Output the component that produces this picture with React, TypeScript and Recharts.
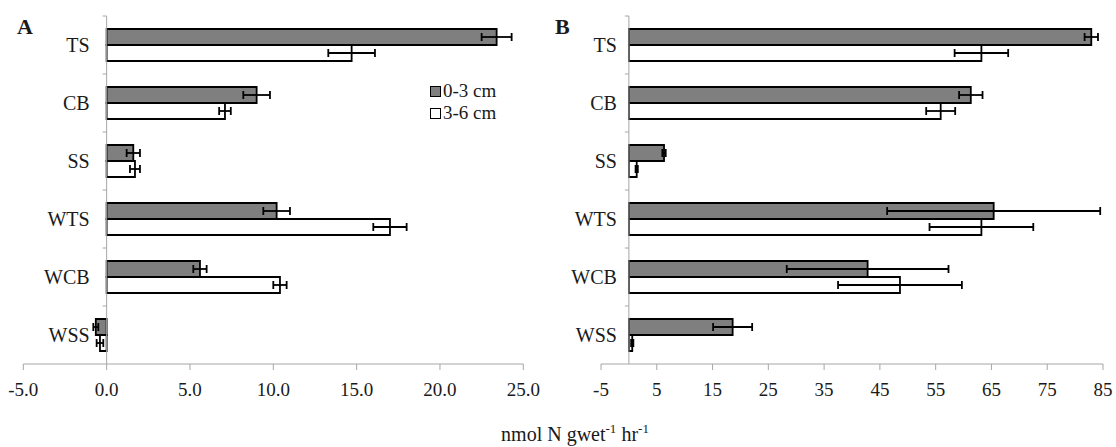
import React from 'react'
import {
  BarChart,
  Bar,
  XAxis,
  YAxis,
  ErrorBar,
  ReferenceLine,
  Legend,
} from 'recharts'

const sites = ['TS', 'CB', 'SS', 'WTS', 'WCB', 'WSS']

// panel A
const aShallow = [23.4, 9.0, 1.6, 10.2, 5.6, -0.65]
const aShallowErr = [0.9, 0.8, 0.4, 0.8, 0.4, 0.15]
const aDeep = [14.7, 7.1, 1.7, 17.0, 10.4, -0.4]
const aDeepErr = [1.4, 0.35, 0.3, 1.0, 0.4, 0.2]
const aTicks = [-5, 0, 5, 10, 15, 20, 25]

// panel B
const bShallow = [82.9, 61.3, 6.3, 65.4, 42.8, 18.6]
const bShallowErr = [1.2, 2.1, 0.3, 19.1, 14.5, 3.5]
const bDeep = [63.2, 55.9, 1.4, 63.2, 48.6, 0.6]
const bDeepErr = [4.8, 2.6, 0.2, 9.3, 11.1, 0.2]
const bTicks = [-5, 5, 15, 25, 35, 45, 55, 65, 75, 85]

const serif = '"Liberation Serif", "Times New Roman", serif'
const axisGray = '#a6a6a6'
const ink = '#1a1a1a'

const H = 447
const TOP = 16
const BOTTOM = 364
const BAND = (BOTTOM - TOP) / sites.length
const Y_W = 20

function rows(s: number[], se: number[], d: number[], de: number[]) {
  return sites.map((site, i) => ({
    site,
    shallow: s[i],
    shallowErr: se[i],
    deep: d[i],
    deepErr: de[i],
  }))
}

function LegendBox({ payload }: any) {
  return (
    <div style={{ fontFamily: serif, fontSize: 19, color: ink, lineHeight: '22px' }}>
      {(payload || []).map((p: any) => (
        <div key={p.value} style={{ display: 'flex', alignItems: 'center' }}>
          <span
            style={{
              width: 9,
              height: 9,
              border: '1.5px solid #000',
              background: p.color,
              marginRight: 2,
              display: 'inline-block',
            }}
          />
          {p.value}
        </div>
      ))}
    </div>
  )
}

interface PanelProps {
  letter: string
  data: ReturnType<typeof rows>
  ticks: number[]
  fmt: (v: number) => string
  left: number
  width: number
  plotLeft: number
  plotRight: number
  labelGap: number
  legend?: boolean
}

function Panel({ letter, data, ticks, fmt, left, width, plotLeft, plotRight, labelGap, legend }: PanelProps) {
  const min = ticks[0]
  const max = ticks[ticks.length - 1]
  const zeroX = plotLeft - left + ((0 - min) / (max - min)) * (plotRight - plotLeft)

  const siteTick = (props: any) => {
    const { y, payload } = props
    return (
      <g>
        <text
          x={zeroX - labelGap}
          y={y}
          dy="0.35em"
          textAnchor="end"
          fontFamily={serif}
          fontSize={20}
          fill={ink}
        >
          {payload.value}
        </text>
        <line x1={zeroX - 4} x2={zeroX} y1={y - BAND / 2} y2={y - BAND / 2} stroke={axisGray} />
      </g>
    )
  }

  return (
    <div style={{ position: 'absolute', left, top: 0 }}>
      <BarChart
        width={width}
        height={H}
        data={data}
        layout="vertical"
        barSize={16}
        barGap={0}
        margin={{
          top: TOP,
          bottom: H - BOTTOM - 40,
          left: plotLeft - left - Y_W,
          right: left + width - plotRight,
        }}
      >
        <XAxis
          type="number"
          domain={[min, max]}
          ticks={ticks}
          tickFormatter={fmt}
          interval={0}
          height={40}
          stroke={axisGray}
          tickSize={6}
          tickMargin={13}
          tick={{ fill: ink, fontSize: 19, fontFamily: serif }}
        />
        <YAxis
          type="category"
          dataKey="site"
          width={Y_W}
          axisLine={false}
          tickLine={false}
          tick={siteTick}
          interval={0}
        />
        <ReferenceLine x={0} stroke={axisGray} strokeWidth={1} />
        {legend && (
          <Legend
            layout="vertical"
            align="center"
            verticalAlign="middle"
            content={<LegendBox />}
            wrapperStyle={{ left: 430 - left, top: 80, width: 'auto' }}
          />
        )}
        <Bar dataKey="shallow" name="0-3 cm" fill="#7f7f7f" stroke="#000" strokeWidth={1.8} isAnimationActive={false}>
          <ErrorBar dataKey="shallowErr" direction="x" width={4} stroke="#000" strokeWidth={1.8} />
        </Bar>
        <Bar dataKey="deep" name="3-6 cm" fill="#ffffff" stroke="#000" strokeWidth={1.8} isAnimationActive={false}>
          <ErrorBar dataKey="deepErr" direction="x" width={4} stroke="#000" strokeWidth={1.8} />
        </Bar>
      </BarChart>
      <div
        style={{
          position: 'absolute',
          left: 0,
          top: 14,
          fontFamily: serif,
          fontWeight: 'bold',
          fontSize: 22,
          color: ink,
          paddingLeft: letter === 'A' ? 17 : 555 - left,
        }}
      >
        {letter}
      </div>
    </div>
  )
}

const supStyle: React.CSSProperties = { fontSize: 13, lineHeight: 0, verticalAlign: 'super' }

export default function App() {
  return (
    <div style={{ position: 'absolute', left: 0, top: 0, width: 1116, height: H, background: '#fff', overflow: 'hidden' }}>
      <Panel
        letter="A"
        data={rows(aShallow, aShallowErr, aDeep, aDeepErr)}
        ticks={aTicks}
        fmt={(v) => v.toFixed(1)}
        left={0}
        width={560}
        plotLeft={23.3}
        plotRight={523.3}
        labelGap={17}
        legend
      />
      <Panel
        letter="B"
        data={rows(bShallow, bShallowErr, bDeep, bDeepErr)}
        ticks={bTicks}
        fmt={(v) => String(v)}
        left={550}
        width={566}
        plotLeft={601}
        plotRight={1103}
        labelGap={12}
      />
      <div
        style={{
          position: 'absolute',
          left: 425,
          width: 300,
          top: 423,
          textAlign: 'center',
          fontFamily: serif,
          fontSize: 20,
          lineHeight: '22px',
          color: ink,
        }}
      >
        nmol N gwet<span style={supStyle}>-1</span> hr<span style={supStyle}>-1</span>
      </div>
    </div>
  )
}
